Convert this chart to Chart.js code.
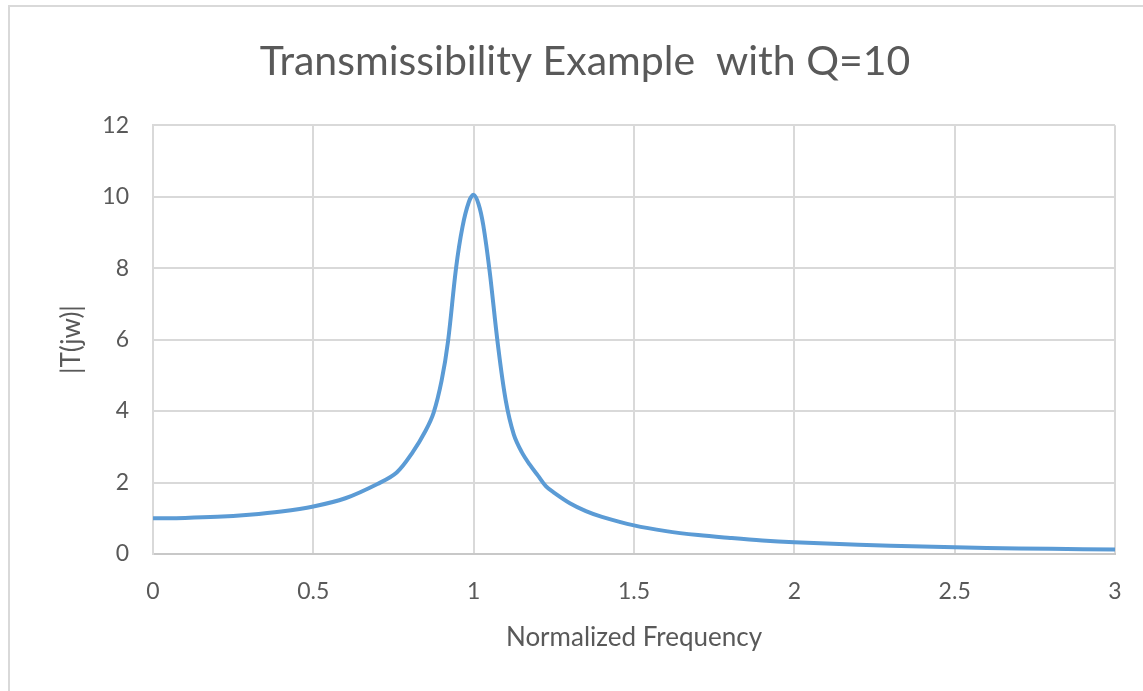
<!DOCTYPE html>
<html lang="en">
<head>
    <meta charset="UTF-8">
    <title>Transmissibility Example</title>
    <script src="https://cdn.jsdelivr.net/npm/chart.js"></script>
    <style>
        html, body { margin: 0; padding: 0; background: #fff; overflow: hidden; }
        .frame { position: absolute; left: 8px; top: 5px; width: 1200px; height: 720px;
                 border-top: 2px solid #d9d9d9; border-left: 2px solid #d9d9d9; }
        .wrap { position: absolute; left: 0; top: 0; width: 1170px; height: 691px; }
    </style>
</head>
<body>
<div class="frame"></div>
<div class="wrap">
    <canvas id="tChart" width="1170" height="691"></canvas>
</div>

<script>
    // Normalized frequency (w/wn) and |T(jw)|
    const freq = [0, 0.1, 0.2, 0.3, 0.4, 0.5, 0.6, 0.7, 0.76, 0.81, 0.85, 0.875, 0.9, 0.92, 0.945,
                  0.965, 0.985, 1.0, 1.015, 1.03, 1.05, 1.075, 1.1, 1.125, 1.15, 1.175, 1.2,
                  1.225, 1.25, 1.3, 1.35, 1.4, 1.5, 1.6, 1.7, 1.8, 1.9, 2.0, 2.2, 2.4, 2.6, 2.8, 3.0];
    const mag  = [1.00, 1.01, 1.04, 1.10, 1.19, 1.33, 1.56, 1.96, 2.28, 2.85, 3.45, 3.95, 4.85, 5.95, 8.0,
                  9.15, 9.85, 10.05, 9.8, 9.2, 7.9, 5.9, 4.3, 3.35, 2.85, 2.5, 2.2,
                  1.9, 1.72, 1.42, 1.2, 1.04, 0.80, 0.64, 0.53, 0.45, 0.38, 0.33, 0.26, 0.21, 0.17, 0.145, 0.125];

    const xTicks = [0, 0.5, 1, 1.5, 2, 2.5, 3];
    const yTicks = [0, 2, 4, 6, 8, 10, 12];

    const textColor = '#595959';
    const gridColor = '#d9d9d9';
    const fontName = 'Lato, "Open Sans", sans-serif';

    const points = freq.map((f, i) => ({ x: f, y: mag[i] }));

    const ctx = document.getElementById('tChart').getContext('2d');
    new Chart(ctx, {
        type: 'line',
        data: {
            datasets: [{
                label: '|T(jw)|',
                data: points,
                borderColor: '#5b9bd5',
                borderWidth: 4,
                fill: false,
                pointRadius: 0,
                tension: 0.35
            }]
        },
        options: {
            responsive: false,
            animation: false,
            layout: { padding: 0 },
            plugins: {
                legend: { display: false },
                tooltip: { enabled: false },
                title: {
                    display: true,
                    text: 'Transmissibility Example  with Q=10',
                    color: textColor,
                    font: { family: fontName, size: 41, weight: 'normal' },
                    padding: { top: 37, bottom: 39 }
                }
            },
            scales: {
                x: {
                    type: 'linear',
                    min: 0,
                    max: 3,
                    afterBuildTicks: s => { s.ticks = xTicks.map(v => ({ value: v })); },
                    afterFit: s => { s.height = 137; },
                    grid: { color: gridColor, lineWidth: 2, drawTicks: false },
                    border: { color: '#c8c8c8', width: 2 },
                    ticks: {
                        color: textColor,
                        font: { family: fontName, size: 23 },
                        padding: 24,
                        callback: v => String(v)
                    },
                    title: {
                        display: true,
                        text: 'Normalized Frequency',
                        color: textColor,
                        font: { family: fontName, size: 26 },
                        padding: { top: 0, bottom: 38 }
                    }
                },
                y: {
                    min: 0,
                    max: 12,
                    afterBuildTicks: s => { s.ticks = yTicks.map(v => ({ value: v })); },
                    afterFit: s => { s.width = 153; },
                    grid: { color: gridColor, lineWidth: 2, drawTicks: false },
                    border: { color: gridColor, width: 2 },
                    ticks: { color: textColor, font: { family: fontName, size: 23 }, padding: 24 },
                    title: {
                        display: true,
                        text: '|T(jw)|',
                        color: textColor,
                        font: { family: fontName, size: 26 },
                        padding: { top: 56, bottom: 0 }
                    }
                },
                // empty right-hand strip so the title centres over the whole frame
                yRight: {
                    position: 'right',
                    min: 0,
                    max: 12,
                    afterFit: s => { s.width = 55; },
                    grid: { display: false },
                    border: { display: false },
                    ticks: { display: false }
                }
            }
        }
    });
</script>
</body>
</html>
